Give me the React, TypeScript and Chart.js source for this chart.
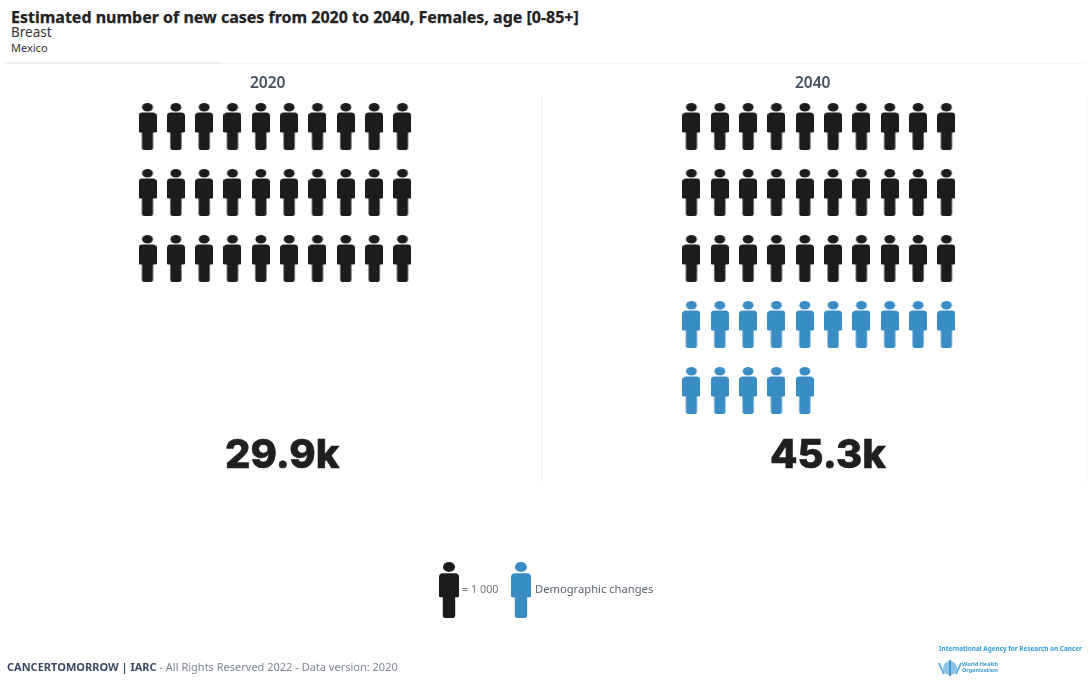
import React, { useEffect, useRef } from "react";
import { Chart, registerables } from "chart.js";

Chart.register(...registerables);

// Estimated new cases, in thousands
const years = ["2020", "2040"];
const totals = [29.9, 45.3];
const legendLabels = ["= 1 000", "Demographic changes"];

const titleLine = "Estimated number of new cases from 2020 to 2040, Females, age [0-85+]";
const cancerSite = "Breast";
const population = "Mexico";
const footerBrand = "CANCERTOMORROW | IARC";
const footerNote = " - All Rights Reserved 2022 - Data version: 2020";
const agencyLine = "International Agency for Research on Cancer";
const whoLines = ["World Health", "Organization"];

const INK = "#1d1c1d";
const BLUE = "#3a8cc4";
const ICONS_PER_ROW = 10;
const FONT = '"Noto Sans", "Open Sans", sans-serif';

// Column distance between the two year panels
const PANEL_STEP = 19.2;
const COL_PX = 28.33;
const ROW_PX = 66;

// Pictogram of one person, used as the point image of the scatter datasets
function paintPerson(c: HTMLCanvasElement, colour: string) {
  const w = c.width;
  const h = c.height;
  const ctx = c.getContext("2d")!;
  ctx.fillStyle = colour;
  ctx.beginPath();
  ctx.ellipse(w / 2, h * 0.09, w * 0.3, h * 0.09, 0, 0, Math.PI * 2);
  ctx.fill();
  ctx.beginPath();
  ctx.roundRect(0, h * 0.2, w, h * 0.43, [w * 0.2, w * 0.2, w * 0.08, w * 0.08]);
  ctx.fill();
  ctx.beginPath();
  ctx.roundRect(w * 0.19, h * 0.5, w * 0.62, h * 0.5, [0, 0, w * 0.14, w * 0.14]);
  ctx.fill();
}

function personImage(colour: string, w: number, h: number) {
  const c = document.createElement("canvas");
  c.width = w;
  c.height = h;
  paintPerson(c, colour);
  return c;
}

// One icon per thousand cases, laid out row by row
function iconGrid(panel: number, first: number, count: number) {
  const pts: { x: number; y: number }[] = [];
  for (let i = first; i < first + count; i++) {
    pts.push({
      x: panel * PANEL_STEP + (i % ICONS_PER_ROW),
      y: Math.floor(i / ICONS_PER_ROW),
    });
  }
  return pts;
}

const abs = (left: number, top: number, extra: React.CSSProperties = {}): React.CSSProperties => ({
  position: "absolute",
  left,
  top,
  whiteSpace: "nowrap",
  fontFamily: FONT,
  lineHeight: 1,
  ...extra,
});

function LegendIcon({ colour, left, top }: { colour: string; left: number; top: number }) {
  const ref = useRef<HTMLCanvasElement>(null);
  useEffect(() => {
    if (ref.current) paintPerson(ref.current, colour);
  }, [colour]);
  return (
    <canvas
      ref={ref}
      width={20}
      height={56}
      style={{ position: "absolute", left, top, width: 20, height: 56 }}
    />
  );
}

export default function App() {
  const canvasRef = useRef<HTMLCanvasElement>(null);

  useEffect(() => {
    const baseIcons = Math.round(totals[0]);
    const endIcons = Math.round(totals[1]);
    const blackIcon = personImage(INK, 18, 47);
    const blueIcon = personImage(BLUE, 18, 47);
    const chart = new Chart(canvasRef.current!, {
      type: "scatter",
      data: {
        datasets: [
          {
            label: years[0],
            data: iconGrid(0, 0, baseIcons),
            pointStyle: blackIcon,
          },
          {
            label: years[1],
            data: iconGrid(1, 0, baseIcons),
            pointStyle: blackIcon,
          },
          {
            label: legendLabels[1],
            data: iconGrid(1, baseIcons, endIcons - baseIcons),
            pointStyle: blueIcon,
          },
        ],
      },
      options: {
        responsive: false,
        animation: false,
        layout: { padding: 0, autoPadding: false },
        plugins: { legend: { display: false }, tooltip: { enabled: false }, title: { display: false } },
        scales: {
          x: { type: "linear", display: false, min: -147.5 / COL_PX, max: (1092 - 147.5) / COL_PX },
          y: { type: "linear", display: false, reverse: true, min: -126.5 / ROW_PX, max: (699 - 126.5) / ROW_PX },
        },
      },
    });
    return () => chart.destroy();
  }, []);

  const totalLabel = (v: number) => `${v.toFixed(1)}k`;
  const totalStyle: React.CSSProperties = {
    fontFamily: "Inter, sans-serif",
    fontSize: 40,
    fontWeight: 800,
    color: "#1f1f20",
    WebkitTextStroke: "0.6px #1f1f20",
  };

  return (
    <div style={{ position: "absolute", left: 0, top: 0, width: 1092, height: 699, overflow: "hidden", background: "#fff" }}>
      <div style={abs(11, 9, { fontSize: 16, fontWeight: 700, color: "#222", WebkitTextStroke: "0.25px #222" })}>{titleLine}</div>
      <div style={abs(11, 26, { fontSize: 13.5, color: "#333" })}>{cancerSite}</div>
      <div style={abs(11, 42, { fontSize: 11, color: "#333" })}>{population}</div>

      <div style={{ position: "absolute", left: 5, top: 62, width: 217, height: 2, background: "#eeeeee" }} />
      <div style={{ position: "absolute", left: 222, top: 63, width: 863, height: 1, background: "#f6f6f6" }} />
      <div style={{ position: "absolute", left: 541, top: 97, width: 1, height: 385, background: "#ededed" }} />
      <div style={{ position: "absolute", left: 1086, top: 97, width: 1, height: 385, background: "#f1f1f1" }} />

      <canvas ref={canvasRef} width={1092} height={699} style={{ position: "absolute", left: 0, top: 0 }} />

      <div style={abs(250, 75, { fontSize: 15.5, fontWeight: 600, color: "#45505f" })}>{years[0]}</div>
      <div style={abs(795, 75, { fontSize: 15.5, fontWeight: 600, color: "#45505f" })}>{years[1]}</div>
      <div style={abs(225, 434, totalStyle)}>{totalLabel(totals[0])}</div>
      <div style={abs(770, 434, totalStyle)}>{totalLabel(totals[1])}</div>

      <LegendIcon colour={INK} left={439} top={562} />
      <LegendIcon colour={BLUE} left={511} top={562} />
      <div style={abs(462, 584, { fontSize: 10.8, color: "#777", filter: "blur(0.4px)" })}>{legendLabels[0]}</div>
      <div style={abs(535, 583, { fontSize: 11.2, color: "#5b6470", filter: "blur(0.4px)" })}>{legendLabels[1]}</div>

      <div style={abs(7, 661, { fontSize: 11, color: "#7d8590", filter: "blur(0.5px)" })}>
        <span style={{ fontWeight: 700, color: "#3a4a63" }}>{footerBrand}</span>
        {footerNote}
      </div>
      <div style={abs(939, 646, { fontSize: 6.4, fontWeight: 700, color: "#2f9fd6", filter: "blur(0.5px)" })}>{agencyLine}</div>
      <div style={abs(962, 661, { fontSize: 5.5, lineHeight: "6px", fontWeight: 700, color: "#3a9ad0", filter: "blur(0.5px)" })}>
        {whoLines[0]}
        <br />
        {whoLines[1]}
      </div>
      <svg width={24} height={18} style={{ position: "absolute", left: 938, top: 659, filter: "blur(0.5px)" }}>
        <circle cx={12} cy={9} r={7} fill="#8cc4e6" />
        <rect x={11} y={1} width={2} height={16} fill="#3a9ad0" />
        <path d="M1 4 Q3 9 6 15 M23 4 Q21 9 18 15" stroke="#5aaede" strokeWidth={2} fill="none" />
      </svg>
    </div>
  );
}
